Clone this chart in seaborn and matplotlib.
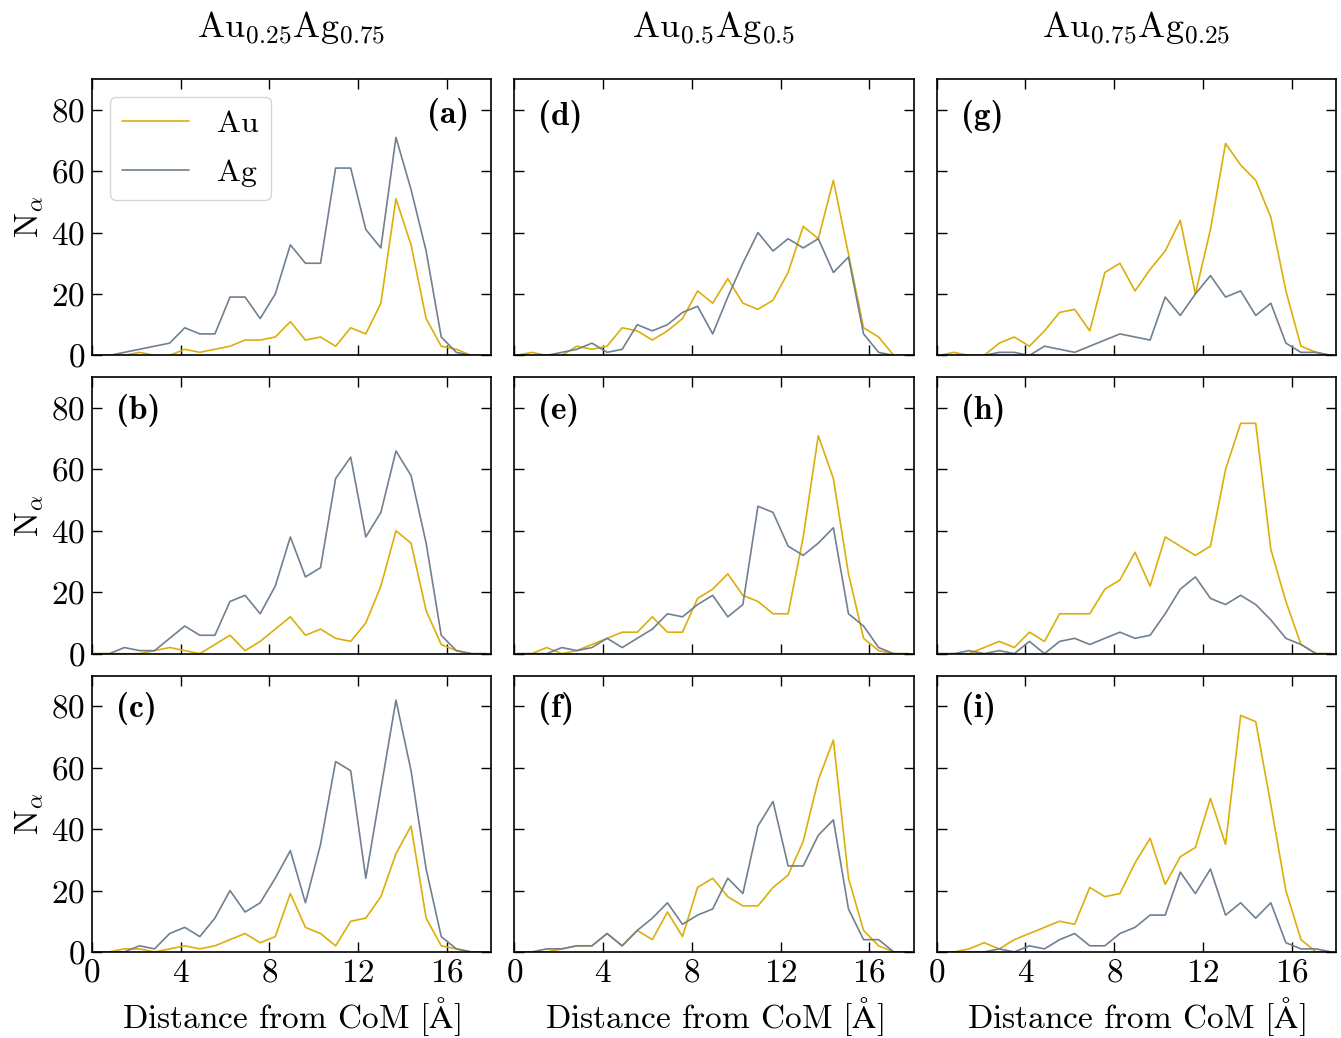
import seaborn as sns
import numpy as np
import pandas as pd
import matplotlib.pyplot as plt

# distance from centre of mass (bin positions, Angstrom)
distance = [0.10, 0.78, 1.46, 2.14, 2.82, 3.50, 4.18, 4.86, 5.54, 6.22, 6.90,
            7.58, 8.26, 8.94, 9.62, 10.30, 10.98, 11.66, 12.34, 13.02, 13.70,
            14.38, 15.06, 15.74, 16.42, 17.10, 17.78]

# column 1: Au0.25Ag0.75
a_au = [0, 0, 0, 1, 0, 0, 2, 1, 2, 3, 5, 5, 6, 11, 5, 6, 3, 9, 7, 17, 51, 36, 12, 3, 2, 0, 0]
a_ag = [0, 0, 1, 2, 3, 4, 9, 7, 7, 19, 19, 12, 20, 36, 30, 30, 61, 61, 41, 35, 71, 54, 34, 6, 1, 0, 0]
b_au = [0, 0, 0, 0, 1, 2, 1, 0, 3, 6, 1, 4, 8, 12, 6, 8, 5, 4, 10, 22, 40, 36, 14, 3, 1, 0, 0]
b_ag = [0, 0, 2, 1, 1, 5, 9, 6, 6, 17, 19, 13, 22, 38, 25, 28, 57, 64, 38, 46, 66, 58, 36, 6, 1, 0, 0]
c_au = [0, 0, 1, 1, 0, 1, 2, 1, 2, 4, 6, 3, 5, 19, 8, 6, 2, 10, 11, 18, 32, 41, 11, 2, 1, 0, 0]
c_ag = [0, 0, 0, 2, 1, 6, 8, 5, 11, 20, 13, 16, 24, 33, 16, 35, 62, 59, 24, 53, 82, 59, 27, 5, 1, 0, 0]

# column 2: Au0.5Ag0.5
d_au = [0, 1, 0, 0, 3, 2, 3, 9, 8, 5, 8, 12, 21, 17, 25, 17, 15, 18, 27, 42, 38, 57, 33, 9, 6, 0, 0]
d_ag = [0, 0, 0, 1, 2, 4, 1, 2, 10, 8, 10, 14, 16, 7, 19, 30, 40, 34, 38, 35, 38, 27, 32, 7, 1, 0, 0]
e_au = [0, 0, 2, 0, 1, 3, 5, 7, 7, 12, 7, 7, 18, 21, 26, 19, 17, 13, 13, 38, 71, 57, 26, 5, 1, 0, 0]
e_ag = [0, 0, 0, 2, 1, 2, 5, 2, 5, 8, 13, 12, 16, 19, 12, 16, 48, 46, 35, 32, 36, 41, 13, 9, 2, 0, 0]
f_au = [0, 0, 0, 1, 2, 2, 6, 2, 7, 4, 13, 5, 21, 24, 18, 15, 15, 21, 25, 36, 56, 69, 24, 7, 2, 0, 0]
f_ag = [0, 0, 1, 1, 2, 2, 6, 2, 7, 11, 16, 9, 12, 14, 24, 19, 41, 49, 28, 28, 38, 43, 14, 4, 4, 0, 0]

# column 3: Au0.75Ag0.25
g_au = [0, 1, 0, 0, 4, 6, 3, 8, 14, 15, 8, 27, 30, 21, 28, 34, 44, 20, 41, 69, 62, 57, 45, 21, 3, 1, 0]
g_ag = [0, 0, 0, 0, 1, 1, 0, 3, 2, 1, 3, 5, 7, 6, 5, 19, 13, 20, 26, 19, 21, 13, 17, 4, 1, 1, 0]
h_au = [0, 0, 0, 2, 4, 2, 7, 4, 13, 13, 13, 21, 24, 33, 22, 38, 35, 32, 35, 60, 75, 75, 34, 17, 3, 0, 0]
h_ag = [0, 0, 1, 0, 1, 0, 4, 0, 4, 5, 3, 5, 7, 5, 6, 13, 21, 25, 18, 16, 19, 16, 11, 5, 3, 0, 0]
i_au = [0, 0, 1, 3, 1, 4, 6, 8, 10, 9, 21, 18, 19, 29, 37, 22, 31, 34, 50, 35, 77, 75, 48, 20, 4, 0, 0]
i_ag = [0, 0, 0, 0, 1, 0, 2, 1, 4, 6, 2, 2, 6, 8, 12, 12, 26, 19, 27, 12, 16, 11, 16, 3, 1, 1, 0]

titles = [r'$\mathrm{Au}_{0.25}\mathrm{Ag}_{0.75}$',
          r'$\mathrm{Au}_{0.5}\mathrm{Ag}_{0.5}$',
          r'$\mathrm{Au}_{0.75}\mathrm{Ag}_{0.25}$']
panels = [[('a', a_au, a_ag), ('d', d_au, d_ag), ('g', g_au, g_ag)],
          [('b', b_au, b_ag), ('e', e_au, e_ag), ('h', h_au, h_ag)],
          [('c', c_au, c_ag), ('f', f_au, f_ag), ('i', i_au, i_ag)]]

palette = {'Au': '#dcae0a', 'Ag': '#708090'}

sns.set_style('ticks')
plt.rcParams['font.family'] = 'cmr10'
plt.rcParams['mathtext.fontset'] = 'cm'
plt.rcParams['axes.formatter.use_mathtext'] = True
plt.rcParams['axes.unicode_minus'] = False
plt.rcParams['text.color'] = 'black'
plt.rcParams['axes.labelcolor'] = 'black'
plt.rcParams['axes.edgecolor'] = 'black'
plt.rcParams['xtick.color'] = 'black'
plt.rcParams['ytick.color'] = 'black'

fig, axes = plt.subplots(3, 3, figsize=(13.41, 10.38), dpi=100, sharex=True, sharey=True)
fig.subplots_adjust(left=0.0686, right=0.9963, top=0.9239, bottom=0.0829,
                    wspace=0.0575, hspace=0.079)

for r in range(3):
    for c in range(3):
        ax = axes[r, c]
        tag, au, ag = panels[r][c]
        df = pd.DataFrame({
            'distance': distance * 2,
            'count': au + ag,
            'element': ['Au'] * len(au) + ['Ag'] * len(ag),
        })
        sns.lineplot(data=df, x='distance', y='count', hue='element',
                     palette=palette, hue_order=['Au', 'Ag'], ax=ax,
                     linewidth=1.2, estimator=None, sort=False,
                     legend=(tag == 'a'))
        ax.set_xlim(0, 18)
        ax.set_ylim(0, 90)
        ax.set_xticks([0, 4, 8, 12, 16])
        ax.set_yticks([0, 20, 40, 60, 80])
        ax.tick_params(direction='in', top=True, right=True, length=7, width=1,
                       labelsize=24, pad=5)
        for s in ax.spines.values():
            s.set_linewidth(1.2)
        ax.set_xlabel('')
        ax.set_ylabel('')
        if r == 2:
            ax.set_xlabel(r'Distance from CoM [$\mathrm{\AA}$]', fontsize=24, labelpad=5)
        if c == 0:
            ax.set_ylabel(r'$\mathrm{N}_\alpha$', fontsize=24, labelpad=4)
        if r == 0:
            ax.set_title(titles[c], fontsize=26, pad=30)
        lbl = '(' + tag + ')'
        if tag == 'a':
            ax.text(0.945, 0.93, lbl, transform=ax.transAxes, ha='right', va='top',
                    fontsize=24, fontfamily='cmb10')
            ax.legend(loc='upper left', fontsize=23, handlelength=2.1, handletextpad=0.85,
                      frameon=True, fancybox=True, edgecolor='#cccccc',
                      borderaxespad=0.55, labelspacing=0.65, borderpad=0.4)
        else:
            ypos = 0.925 if r == 0 else 0.94
            ax.text(0.06, ypos, lbl, transform=ax.transAxes, ha='left', va='top',
                    fontsize=24, fontfamily='cmb10')

plt.savefig('out.png', dpi=100)
